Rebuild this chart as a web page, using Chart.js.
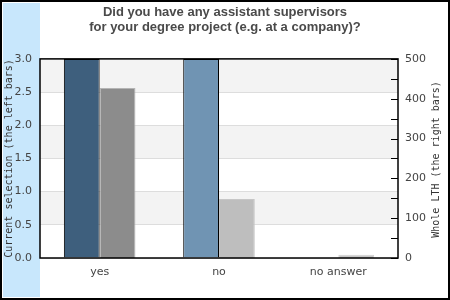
<!DOCTYPE html>
<html>
<head>
<meta charset="utf-8">
<script src="https://cdn.jsdelivr.net/npm/chart.js@4/dist/chart.umd.min.js"></script>
<style>
  html, body { margin: 0; padding: 0; background: #fff; }
  #wrap { width: 450px; height: 300px; }
</style>
</head>
<body>
<div id="wrap"><canvas id="chart" width="450" height="300"></canvas></div>
<script>
const categories = ['yes', 'no', 'no answer'];
const currentSelection = [3, 3, 0];
const wholeLTH = [427, 148, 8];
const leftColors = ['#3e5f7d', '#7094b3', '#9fb8cf'];
const rightColors = ['#8c8c8c', '#bebebe', '#c8c8c8'];
const rightBorders = ['#b4b4b4', '#c6c6c6', '#d2d2d2'];
const titleLines = ['Did you have any assistant supervisors', 'for your degree project (e.g. at a company)?'];

// backgrounds, bands, frame and inward ticks on the right axis
const decor = {
  id: 'decor',
  beforeDraw(chart) {
    const ctx = chart.ctx, a = chart.chartArea, y = chart.scales.y;
    ctx.save();
    ctx.fillStyle = '#ffffff';
    ctx.fillRect(0, 0, chart.width, chart.height);
    ctx.fillStyle = '#c8e7fc';
    ctx.fillRect(3, 3, 37, 294);
    ctx.fillStyle = '#f3f3f3';
    for (let v = 3; v > 0; v -= 1) {
      const top = y.getPixelForValue(v), bot = y.getPixelForValue(v - 0.5);
      ctx.fillRect(a.left, top, a.right - a.left, bot - top);
    }
    ctx.restore();
  },
  afterDraw(chart) {
    const ctx = chart.ctx, a = chart.chartArea, y2 = chart.scales.y2;
    ctx.save();
    ctx.strokeStyle = '#000';
    ctx.lineWidth = 1.5;
    ctx.strokeRect(a.left, a.top, a.right - a.left, a.bottom - a.top);
    ctx.lineWidth = 1;
    y2.ticks.forEach(t => {
      const py = Math.round(y2.getPixelForValue(t.value)) + 0.5;
      ctx.beginPath();
      ctx.moveTo(a.right - 7, py);
      ctx.lineTo(a.right, py);
      ctx.stroke();
    });
    // right axis title, reading bottom to top
    ctx.fillStyle = '#333';
    ctx.font = '10px "DejaVu Sans Mono"';
    ctx.textAlign = 'center';
    ctx.textBaseline = 'middle';
    ctx.translate(436, (a.top + a.bottom) / 2 + 1);
    ctx.rotate(-Math.PI / 2);
    ctx.fillText('Whole LTH (the right bars)', 0, 0);
    ctx.restore();
    // outer frame
    ctx.save();
    ctx.strokeStyle = '#000';
    ctx.lineWidth = 2;
    ctx.strokeRect(1, 1, chart.width - 2, chart.height - 2);
    ctx.restore();
  }
};

new Chart(document.getElementById('chart'), {
  type: 'bar',
  data: {
    labels: categories,
    datasets: [
      {
        data: currentSelection,
        yAxisID: 'y',
        backgroundColor: leftColors,
        borderColor: '#000',
        borderWidth: 1,
        categoryPercentage: 0.6,
        barPercentage: 1.0
      },
      {
        data: wholeLTH,
        yAxisID: 'y2',
        backgroundColor: rightColors,
        borderColor: rightBorders,
        borderWidth: 1,
        categoryPercentage: 0.6,
        barPercentage: 1.0
      }
    ]
  },
  plugins: [decor],
  options: {
    responsive: false,
    animation: false,
    layout: { padding: { left: 3, right: 3, top: 0, bottom: 3 } },
    plugins: {
      legend: { display: false },
      tooltip: { enabled: false },
      title: {
        display: true,
        text: titleLines,
        color: '#4a4a4a',
        font: { family: '"Liberation Sans", Arial, sans-serif', size: 13, weight: 'bold', lineHeight: 1.15 },
        padding: { top: 5, bottom: 24 }
      }
    },
    scales: {
      x: {
        grid: { display: false, drawTicks: false },
        border: { display: false },
        ticks: { color: '#444', font: { family: '"DejaVu Sans"', size: 11 }, padding: 8 },
        afterFit: s => { s.height = 39; }
      },
      y: {
        position: 'left',
        min: 0,
        max: 3,
        grid: { color: '#dddddd', drawTicks: false },
        border: { display: false },
        ticks: {
          stepSize: 0.5,
          color: '#444',
          font: { family: '"DejaVu Sans"', size: 11 },
          padding: 8,
          callback: v => Number(v).toFixed(1)
        },
        title: {
          display: true,
          text: 'Current selection (the left bars)',
          color: '#333',
          font: { family: '"DejaVu Sans Mono"', size: 10 },
          padding: 0
        },
        afterFit: s => { s.width = 37; }
      },
      y2: {
        position: 'right',
        min: 0,
        max: 500,
        grid: { display: false, drawTicks: false },
        border: { display: false },
        ticks: {
          stepSize: 50,
          autoSkip: false,
          color: '#444',
          font: { family: '"DejaVu Sans"', size: 11 },
          padding: 7,
          callback: v => (v % 100 === 0 ? String(v) : '')
        },
        afterFit: s => { s.width = 49; }
      }
    }
  }
});
</script>
</body>
</html>
